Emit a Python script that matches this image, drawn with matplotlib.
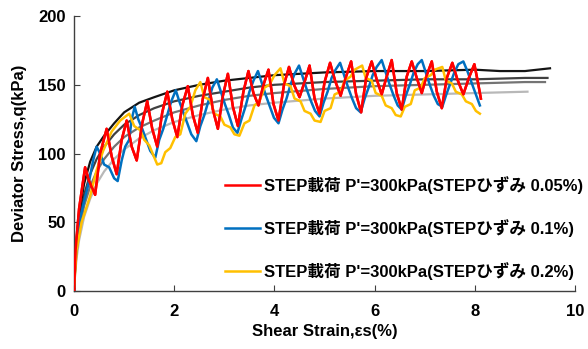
import matplotlib
matplotlib.use("Agg")
import matplotlib.pyplot as plt

plt.rcParams['font.family'] = ['Liberation Sans', 'Noto Sans CJK JP', 'DejaVu Sans']

# monotonic loading curves (strain %, q kPa)
mono_black_s = [0, 0.02, 0.05, 0.1, 0.2, 0.32, 0.45, 0.6, 0.8, 1.0, 1.3, 1.6, 2.0, 2.5, 3.0,
                3.5, 4.0, 5.0, 6.0, 7.0, 8.0, 8.5, 9.0, 9.5]
mono_black_q = [0, 20, 38, 56, 78, 94, 105, 113, 122, 130, 137, 141, 146, 150, 153,
                155, 157, 159, 160, 160, 161, 160, 160, 162]
mono_dark_s = [0, 0.02, 0.05, 0.1, 0.2, 0.32, 0.45, 0.6, 0.8, 1.0, 1.3, 1.6, 2.0, 2.5, 3.0,
               3.5, 4.0, 5.0, 6.0, 7.0, 8.0, 9.0, 9.45]
mono_dark_q = [0, 18, 33, 50, 70, 85, 96, 105, 114, 121, 128, 133, 138, 142, 145,
               148, 150, 152, 153, 154, 154, 155, 155]
mono_mid_s = [0, 0.02, 0.05, 0.1, 0.2, 0.32, 0.45, 0.6, 0.8, 1.0, 1.3, 1.6, 2.0, 2.5, 3.0,
              3.5, 4.0, 5.0, 6.0, 7.0, 8.0, 9.0, 9.4]
mono_mid_q = [0, 15, 28, 43, 62, 76, 87, 96, 105, 112, 119, 124, 130, 135, 139,
              142, 144, 147, 149, 150, 151, 152, 152]
mono_light_s = [0, 0.02, 0.05, 0.1, 0.2, 0.32, 0.45, 0.6, 0.8, 1.0, 1.3, 1.6, 2.0, 2.5, 3.0,
                3.5, 4.0, 5.0, 6.0, 7.0, 8.0, 9.05]
mono_light_q = [0, 12, 24, 37, 54, 67, 78, 87, 96, 103, 111, 117, 123, 128, 132,
                135, 137, 140, 142, 143, 144, 145]

# STEP loading, step strain 0.05%
red_s = [0, 0.03, 0.1, 0.22, 0.3, 0.42, 0.52, 0.65, 0.75, 0.85, 0.95, 1.05, 1.15, 1.25,
         1.36, 1.46, 1.56, 1.66, 1.76, 1.86, 1.96, 2.06, 2.16, 2.27, 2.37, 2.47, 2.57, 2.67,
         2.77, 2.87, 2.97, 3.07, 3.17, 3.27, 3.38, 3.48, 3.58, 3.68, 3.78, 3.88, 3.98, 4.08,
         4.19, 4.29, 4.39, 4.5, 4.6, 4.7, 4.8, 4.9, 5.0, 5.11, 5.21, 5.32, 5.42, 5.53, 5.63,
         5.73, 5.83, 5.94, 6.04, 6.14, 6.24, 6.34, 6.44, 6.54, 6.64, 6.74, 6.84, 6.94, 7.04,
         7.14, 7.24, 7.34, 7.44, 7.55, 7.65, 7.77, 7.88, 7.99, 8.06, 8.12]
red_q = [0, 30, 60, 90, 80, 70, 100, 118, 98, 85, 110, 124, 105, 95,
         122, 138, 118, 105, 130, 145, 125, 112, 135, 149, 128, 115, 140, 155,
         132, 118, 142, 158, 134, 120, 145, 160, 144, 135, 150, 161, 136, 124,
         150, 163, 150, 141, 152, 164, 140, 129, 152, 166, 153, 142, 155, 167, 143,
         130, 155, 167, 154, 143, 156, 168, 144, 132, 156, 167, 155, 144, 157,
         167, 145, 133, 155, 166, 154, 143, 155, 165, 152, 140]

# STEP loading, step strain 0.1%
blue_s = [0, 0.03, 0.1, 0.2, 0.3, 0.38, 0.45, 0.52, 0.6, 0.7, 0.8, 0.87, 0.95, 1.02, 1.1,
          1.15, 1.21, 1.28, 1.36, 1.44, 1.52, 1.62, 1.7, 1.78, 1.86, 1.94, 2.03, 2.1, 2.18,
          2.26, 2.34, 2.44, 2.52, 2.6, 2.68, 2.76, 2.85, 2.93, 3.01, 3.09, 3.17, 3.26, 3.34,
          3.42, 3.5, 3.58, 3.67, 3.75, 3.83, 3.91, 3.99, 4.08, 4.16, 4.24, 4.32, 4.4, 4.49,
          4.57, 4.65, 4.73, 4.81, 4.9, 4.98, 5.06, 5.14, 5.22, 5.31, 5.39, 5.47, 5.55, 5.63,
          5.72, 5.8, 5.88, 5.96, 6.04, 6.14, 6.22, 6.3, 6.38, 6.46, 6.54, 6.62, 6.7, 6.78,
          6.86, 6.94, 7.02, 7.1, 7.18, 7.26, 7.35, 7.43, 7.51, 7.59, 7.67, 7.77, 7.85, 7.93,
          8.01, 8.1]
blue_q = [3, 25, 50, 65, 80, 95, 105, 100, 92, 90, 82, 80, 95, 105, 110,
          125, 134, 125, 118, 110, 102, 97, 110, 118, 128, 138, 146, 138, 130,
          122, 114, 109, 120, 128, 138, 148, 154, 145, 136, 128, 119, 115, 125,
          134, 145, 153, 160, 151, 142, 134, 126, 122, 132, 140, 150, 158, 164,
          155, 146, 138, 131, 127, 137, 145, 155, 161, 166, 157, 148, 140, 133,
          130, 140, 148, 157, 163, 168, 159, 150, 142, 135, 132, 142, 150, 159,
          165, 168, 159, 150, 142, 136, 134, 143, 151, 159, 165, 167, 160, 152,
          144, 135]

# STEP loading, step strain 0.2%
yellow_s = [0, 0.05, 0.15, 0.32, 0.45, 0.58, 0.75, 0.92, 1.1, 1.2, 1.32, 1.4, 1.5, 1.58,
            1.66, 1.74, 1.82, 1.92, 2.02, 2.12, 2.22, 2.32, 2.42, 2.52, 2.6, 2.72, 2.8, 2.92,
            3.0, 3.12, 3.2, 3.3, 3.4, 3.5, 3.6, 3.7, 3.8, 3.9, 4.0, 4.12, 4.2, 4.32, 4.4,
            4.52, 4.6, 4.72, 4.8, 4.92, 5.0, 5.12, 5.2, 5.32, 5.4, 5.52, 5.6, 5.75, 5.82,
            5.94, 6.02, 6.14, 6.22, 6.34, 6.42, 6.52, 6.6, 6.72, 6.8, 6.92, 7.0, 7.12, 7.2,
            7.35, 7.42, 7.54, 7.62, 7.74, 7.82, 7.94, 8.02, 8.1]
yellow_q = [3, 30, 50, 69, 88, 102, 116, 124, 129, 120, 117, 110, 106, 99,
            92, 93, 101, 104, 112, 114, 129, 134, 146, 152, 141, 139, 129, 127,
            121, 119, 114, 113, 122, 124, 135, 138, 148, 150, 157, 162, 151, 149, 140,
            138, 131, 129, 124, 123, 131, 133, 143, 145, 153, 156, 161, 164, 155,
            153, 144, 142, 135, 133, 128, 127, 134, 136, 146, 148, 155, 157, 161,
            163, 153, 151, 145, 143, 138, 136, 131, 129]

labels = ["STEP載荷 P'=300kPa(STEPひずみ 0.05%)",
          "STEP載荷 P'=300kPa(STEPひずみ 0.1%)",
          "STEP載荷 P'=300kPa(STEPひずみ 0.2%)"]

fig = plt.figure(figsize=(5.88, 3.49), dpi=100)
ax = fig.add_axes([0.126, 0.166, 0.852, 0.788])

ax.plot(mono_light_s, mono_light_q, color='#b8b8b8', lw=1.6)
ax.plot(mono_mid_s, mono_mid_q, color='#747474', lw=1.6)
ax.plot(mono_dark_s, mono_dark_q, color='#404040', lw=1.6)
ax.plot(mono_black_s, mono_black_q, color='#141414', lw=1.6)

l1, = ax.plot(red_s, red_q, color='#ff0000', lw=1.8, label=labels[0])
l2, = ax.plot(blue_s, blue_q, color='#0070c0', lw=1.8, label=labels[1])
l3, = ax.plot(yellow_s, yellow_q, color='#ffc000', lw=1.8, label=labels[2])
ax.plot(red_s, red_q, color='#ff0000', lw=1.8, zorder=3.5)

ax.set_xlim(0, 10)
ax.set_ylim(0, 200)
ax.set_xticks([0, 2, 4, 6, 8, 10])
ax.set_yticks([0, 50, 100, 150, 200])
for sp in ['top', 'right']:
    ax.spines[sp].set_visible(False)
for sp in ['left', 'bottom']:
    ax.spines[sp].set_color('#404040')
    ax.spines[sp].set_linewidth(1.0)
ax.tick_params(direction='in', length=4, color='#404040', labelsize=12)
ax.tick_params(axis='x', pad=9)
ax.tick_params(axis='y', pad=6)
for t in ax.get_xticklabels() + ax.get_yticklabels():
    t.set_fontweight('bold')

ax.set_xlabel('Shear Strain,εs(%)', fontsize=12, fontweight='bold', labelpad=4)
ax.set_ylabel('Deviator Stress,q(kPa)', fontsize=12, fontweight='bold', labelpad=8)

leg = ax.legend(handles=[l1, l2, l3], loc='lower right', bbox_to_anchor=(1.042, -0.008),
                frameon=False, prop={'size': 12, 'weight': 'bold'},
                handlelength=2.1, handletextpad=0.2, labelspacing=1.5, borderpad=0.3)

fig.savefig('out.png', dpi=100)
